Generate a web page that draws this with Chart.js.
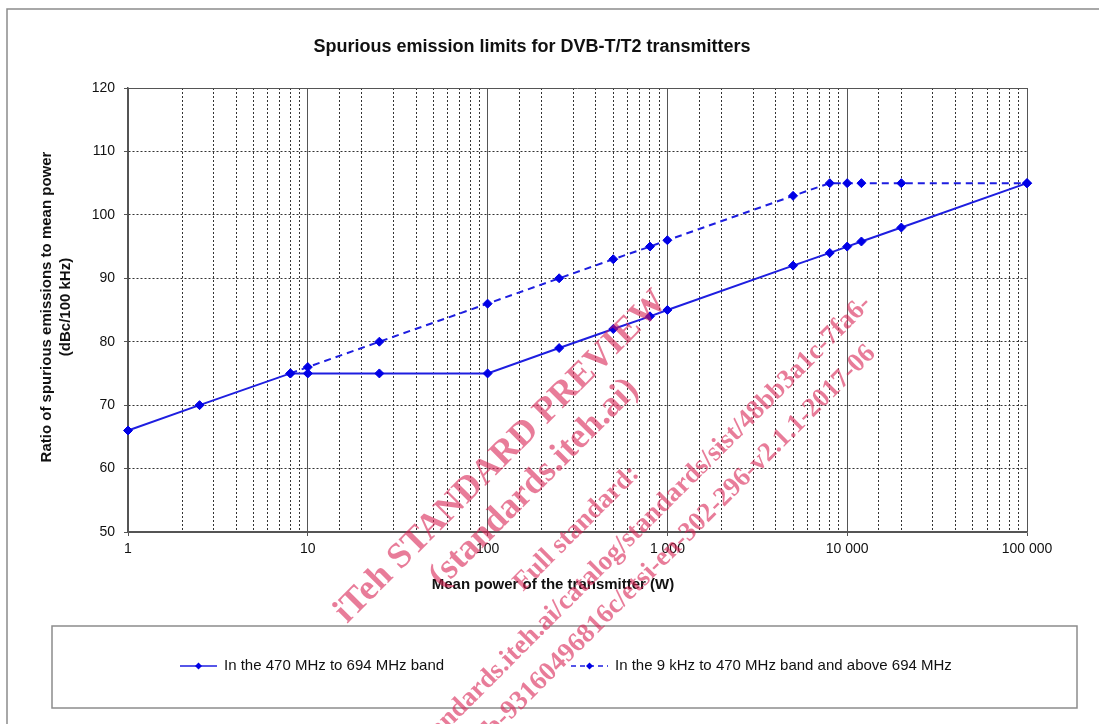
<!DOCTYPE html>
<html>
<head>
<meta charset="utf-8">
<script src="https://cdn.jsdelivr.net/npm/chart.js@4.4.0/dist/chart.umd.min.js"></script>
<style>
  html, body { margin: 0; padding: 0; background: #fff; }
  #wrap { width: 1099px; height: 724px; }
</style>
</head>
<body>
<div id="wrap"><canvas id="grafico"></canvas></div>
<script>
// datos
const potencias = [1, 2.5, 8, 10, 25, 100, 250, 500, 800, 1000, 5000, 8000, 10000, 12000, 20000, 100000];
const banda470 = [66, 70, 75, 75, 75, 75, 79, 82, 84, 85, 92, 94, 95, 95.8, 98, 105];
const potenciasOtras = [8, 10, 25, 100, 250, 500, 800, 1000, 5000, 8000, 10000, 12000, 20000, 100000];
const bandaOtras = [75, 76, 80, 86, 90, 93, 95, 96, 103, 105, 105, 105, 105, 105];

const decadas = [1, 10, 100, 1000, 10000, 100000];
const etiquetasX = ["1", "10", "100", "1 000", "10 000", "100 000"];

const titulo = "Spurious emission limits for DVB-T/T2 transmitters";
const tituloX = "Mean power of the transmitter (W)";
const tituloY = ["Ratio of spurious emissions to mean power", "(dBc/100 kHz)"];
const nombres = ["In the 470 MHz to 694 MHz band", "In the 9 kHz to 470 MHz band and above 694 MHz"];

const marcaAgua = [
  "iTeh STANDARD PREVIEW",
  "(standards.iteh.ai)",
  "Full standard:",
  "https://standards.iteh.ai/catalog/standards/sist/48bb3a1c-7fa6-",
  "4b9b-93160496816c/etsi-en-302-296-v2.1.1-2017-06"
];

const FUENTE = "'Liberation Sans', Arial, sans-serif";
const AZUL_LINEA = "#1e1ee0";
const AZUL_PUNTO = "#0000e6";

function esDecada(v) {
  const l = Math.log10(v);
  return Math.abs(l - Math.round(l)) < 1e-6;
}

// textos, marco, leyenda y marca de agua
const textos = {
  id: "textos",
  afterDraw(chart) {
    const c = chart.ctx;
    c.save();

    // marco exterior
    c.strokeStyle = "#8c8c8c";
    c.lineWidth = 1.5;
    c.beginPath();
    c.moveTo(7, 724);
    c.lineTo(7, 9);
    c.lineTo(1099, 9);
    c.stroke();

    // titulo
    c.fillStyle = "#111";
    c.textAlign = "center";
    c.textBaseline = "middle";
    c.font = "bold 18px " + FUENTE;
    c.fillText(titulo, 532, 47);

    // titulo eje x
    c.font = "bold 15px " + FUENTE;
    c.fillText(tituloX, 553, 585);

    // titulo eje y
    c.save();
    c.translate(47, 307);
    c.rotate(-Math.PI / 2);
    c.fillText(tituloY[0], 0, 0);
    c.fillText(tituloY[1], 0, 19);
    c.restore();

    // leyenda
    c.strokeStyle = "#8c8c8c";
    c.lineWidth = 1.5;
    c.strokeRect(52, 626, 1025, 82);
    const muestras = [[180, 217], [571, 608]];
    chart.data.datasets.forEach((ds, i) => {
      const [x0, x1] = muestras[i];
      const y = 666;
      c.strokeStyle = ds.borderColor;
      c.lineWidth = 1.5;
      c.setLineDash(ds.borderDash ? [5, 4] : []);
      c.beginPath();
      c.moveTo(x0, y);
      c.lineTo(x1, y);
      c.stroke();
      c.setLineDash([]);
      const xm = (x0 + x1) / 2;
      c.fillStyle = ds.pointBackgroundColor;
      c.beginPath();
      c.moveTo(xm, y - 3.5);
      c.lineTo(xm + 3.5, y);
      c.lineTo(xm, y + 3.5);
      c.lineTo(xm - 3.5, y);
      c.closePath();
      c.fill();
      c.fillStyle = "#111";
      c.textAlign = "left";
      c.font = "15px " + FUENTE;
      c.fillText(ds.label, x1 + 7, y);
    });

    // marca de agua
    c.fillStyle = "rgba(215, 30, 80, 0.58)";
    c.translate(501, 457);
    c.rotate(-Math.PI / 4);
    const lineas = [
      { t: 0, size: 36, along: 0, perp: 0, align: "center" },
      { t: 1, size: 36, along: 5, perp: 42, align: "center" },
      { t: 2, size: 27, along: 3, perp: 104, align: "center" },
      { t: 3, size: 27, along: 370, perp: 148, align: "right" },
      { t: 4, size: 27, along: 338, perp: 186, align: "right" }
    ];
    lineas.forEach(l => {
      c.font = "bold " + l.size + "px 'Liberation Serif', 'Times New Roman', serif";
      c.textAlign = l.align;
      c.fillText(marcaAgua[l.t], l.along, l.perp);
    });

    c.restore();
  }
};

const ctx = document.getElementById("grafico").getContext("2d");
new Chart(ctx, {
  type: "line",
  data: {
    datasets: [
      {
        label: nombres[0],
        data: potencias.map((p, i) => ({ x: p, y: banda470[i] })),
        borderColor: AZUL_LINEA,
        borderWidth: 2,
        pointStyle: "rectRot",
        pointRadius: 4.5,
        pointBackgroundColor: AZUL_PUNTO,
        pointBorderColor: AZUL_PUNTO,
        pointBorderWidth: 1,
        tension: 0,
        clip: false
      },
      {
        label: nombres[1],
        data: potenciasOtras.map((p, i) => ({ x: p, y: bandaOtras[i] })),
        borderColor: AZUL_LINEA,
        borderWidth: 2,
        borderDash: [7, 5],
        pointStyle: "rectRot",
        pointRadius: 4.5,
        pointBackgroundColor: AZUL_PUNTO,
        pointBorderColor: AZUL_PUNTO,
        pointBorderWidth: 1,
        tension: 0,
        clip: false
      }
    ]
  },
  options: {
    responsive: true,
    maintainAspectRatio: false,
    animation: false,
    layout: { padding: { top: 88, right: 72, bottom: 152, left: 0 } },
    plugins: {
      legend: { display: false },
      title: { display: false },
      tooltip: { enabled: false }
    },
    scales: {
      x: {
        type: "logarithmic",
        min: 1,
        max: 100000,
        afterFit: s => { s.height = 40; },
        ticks: {
          autoSkip: false,
          maxRotation: 0,
          padding: 5,
          color: "#111",
          font: { family: FUENTE, size: 14 },
          callback: v => {
            const i = decadas.indexOf(Math.round(v));
            return i >= 0 && esDecada(v) ? etiquetasX[i] : "";
          }
        },
        grid: {
          lineWidth: 1,
          color: c => (c.tick && esDecada(c.tick.value)) ? "#555" : "#333",
          drawTicks: true,
          tickLength: 4,
          tickColor: c => (c.tick && esDecada(c.tick.value)) ? "#555" : "rgba(0,0,0,0)"
        },
        border: {
          color: "#555",
          width: 1.5,
          dash: c => (c.tick && !esDecada(c.tick.value)) ? [2, 2] : []
        }
      },
      y: {
        min: 50,
        max: 120,
        afterFit: s => { s.width = 128; },
        ticks: {
          stepSize: 10,
          padding: 9,
          color: "#111",
          font: { family: FUENTE, size: 14 }
        },
        grid: {
          lineWidth: 1,
          color: c => (c.tick && (c.tick.value === 50 || c.tick.value === 120)) ? "#555" : "#333",
          drawTicks: true,
          tickLength: 4,
          tickColor: "#555"
        },
        border: {
          color: "#555",
          width: 1.5,
          dash: c => (c.tick && c.tick.value !== 50 && c.tick.value !== 120) ? [2, 2] : []
        }
      }
    }
  },
  plugins: [textos]
});
</script>
</body>
</html>
